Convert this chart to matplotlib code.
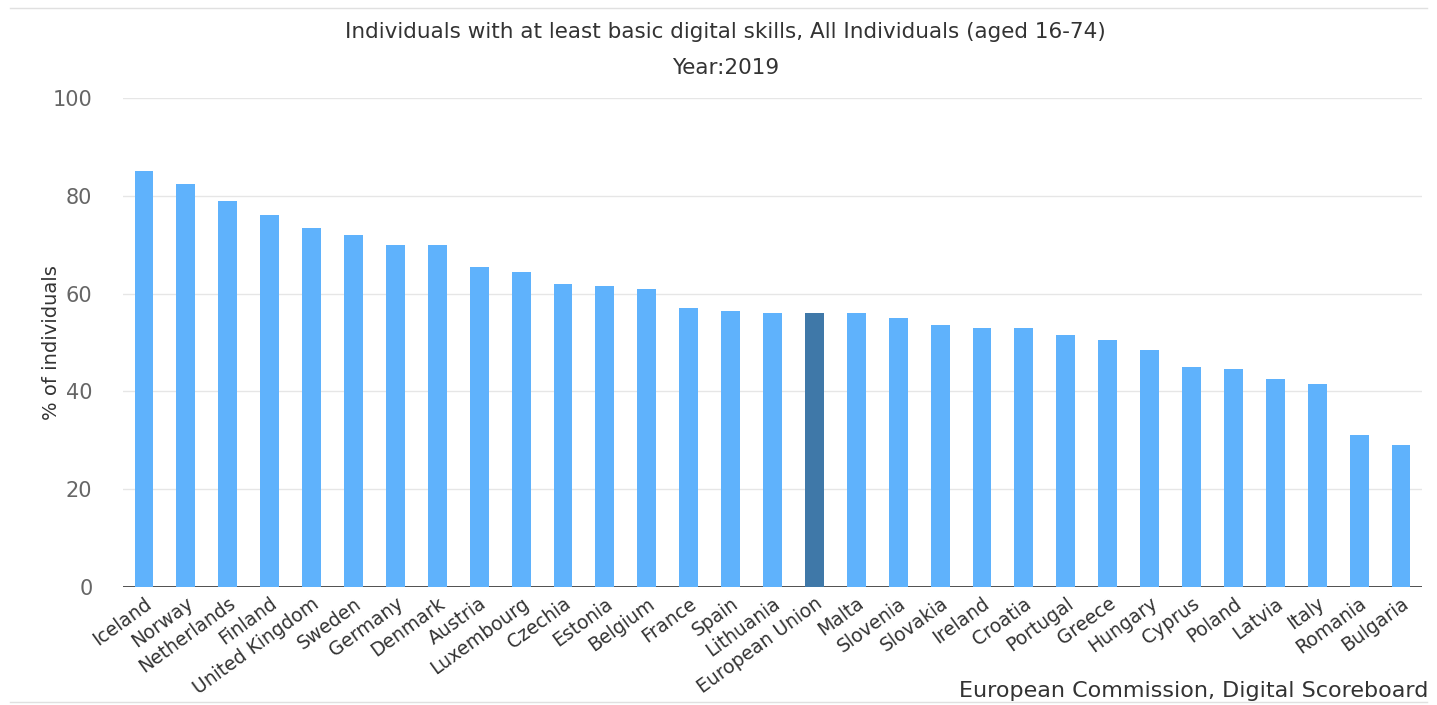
import matplotlib
matplotlib.use("Agg")
import matplotlib.pyplot as plt
from matplotlib.lines import Line2D

# data
countries = ["Iceland", "Norway", "Netherlands", "Finland", "United Kingdom",
             "Sweden", "Germany", "Denmark", "Austria", "Luxembourg",
             "Czechia", "Estonia", "Belgium", "France", "Spain", "Lithuania",
             "European Union", "Malta", "Slovenia", "Slovakia", "Ireland",
             "Croatia", "Portugal", "Greece", "Hungary", "Cyprus", "Poland",
             "Latvia", "Italy", "Romania", "Bulgaria"]
values = [85, 82.5, 79, 76, 73.5, 72, 70, 70, 65.5, 64.5, 62, 61.5, 61,
          57, 56.5, 56, 56, 56, 55, 53.5, 53, 53, 51.5, 50.5, 48.5,
          45, 44.5, 42.5, 41.5, 31, 29]
highlight = "European Union"

title = "Individuals with at least basic digital skills, All Individuals (aged 16-74)"
subtitle = "Year:2019"
y_label = "% of individuals"
credit = "European Commission, Digital Scoreboard"
y_ticks = [0, 20, 40, 60, 80, 100]

W, H = 1437, 705
fig = plt.figure(figsize=(W / 100, H / 100), dpi=100)
ax = fig.add_axes([123 / W, 1 - 587 / H, (1422 - 123) / W, (587 - 98) / H])

colors = ["#3f78a8" if c == highlight else "#5fb2fc" for c in countries]
x = list(range(len(countries)))
ax.bar(x, values, width=0.45, color=colors, zorder=3)

ax.set_xlim(-0.5, len(countries) - 0.5)
ax.set_ylim(0, 100)
ax.set_yticks(y_ticks)
ax.set_yticklabels([str(t) for t in y_ticks], fontsize=15, color="#666666")
ax.tick_params(axis="y", length=0, pad=22)
ax.grid(axis="y", color="#e6e6e6", linewidth=1, zorder=0)
ax.axhline(0, color="#333333", linewidth=1.2, zorder=2)
for s in ax.spines.values():
    s.set_visible(False)

# labels kept a bit smaller than the reference so the long ones stay inside the figure
ax.set_xticks(x)
ax.set_xticklabels(countries, rotation=36, ha="right", va="top",
                   rotation_mode="anchor", fontsize=13.5, color="#333333")
ax.tick_params(axis="x", length=0, pad=5)

ax.set_ylabel(y_label, fontsize=14, color="#333333", labelpad=4)
ax.yaxis.set_label_coords(-62 / (1422 - 123), 0.5)

cx = 0.5 * (298 + 1153) / W
fig.text(cx, 1 - 32 / H, title, ha="center", va="center",
         fontsize=15.5, color="#333333")
fig.text(cx, 1 - 68 / H, subtitle, ha="center", va="center",
         fontsize=15.5, color="#333333")

# container frame lines
fig.add_artist(Line2D([0.007, 0.993], [1 - 8 / H, 1 - 8 / H], color="#e0e0e0", lw=1))
fig.add_artist(Line2D([0.007, 0.993], [3 / H, 3 / H], color="#e0e0e0", lw=1, zorder=0))
fig.text(1428 / W, 1 - 691 / H, credit, ha="right", va="center",
         fontsize=16, color="#333333", zorder=12)

fig.savefig("out.png", dpi=100, facecolor="white")
